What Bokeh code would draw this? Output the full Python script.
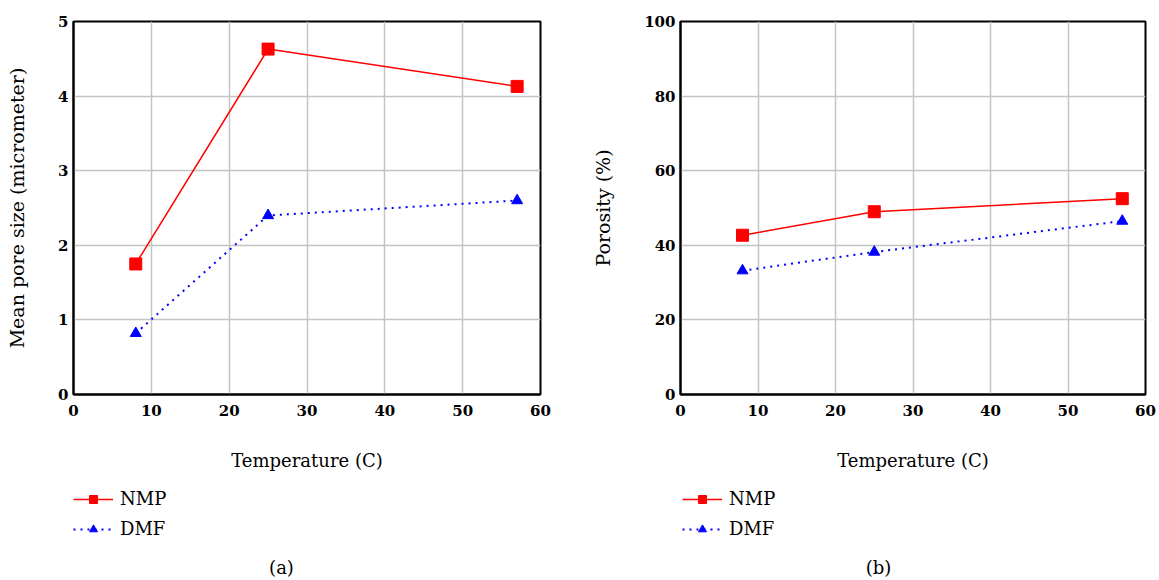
from bokeh.plotting import figure
from bokeh.layouts import row, column
from bokeh.models import Legend, LegendItem, Label, Range1d, FixedTicker
from bokeh.embed import file_html
from bokeh.resources import INLINE

# ---- data ----
temps = [8, 25, 57]
pore_nmp = [1.75, 4.63, 4.13]
pore_dmf = [0.82, 2.40, 2.60]
poro_nmp = [42.7, 49.0, 52.5]
poro_dmf = [33.2, 38.2, 46.5]
x_ticks = [0, 10, 20, 30, 40, 50, 60]
pore_ticks = [0, 1, 2, 3, 4, 5]
poro_ticks = [0, 20, 40, 60, 80, 100]
series_names = ["NMP", "DMF"]
panel_tags = ["(a)", "(b)"]

FONT = "DejaVu Serif"
RED = "#ff0000"
BLUE = "#0000ff"
DMF_DASH = "2 5"


def draw_series(p, nmp, dmf, visible=True):
    l1 = p.line(temps, nmp, line_color=RED, line_width=1.5, visible=visible)
    m1 = p.scatter(temps, nmp, marker="square", size=12,
                   fill_color=RED, line_color=RED, visible=visible)
    l2 = p.line(temps, dmf, line_color=BLUE, line_width=2,
                line_dash=DMF_DASH, visible=visible)
    m2 = p.scatter(temps, dmf, marker="triangle", size=11,
                   fill_color=BLUE, line_color=BLUE, visible=visible)
    return (l1, m1), (l2, m2)


def make_panel(width, border_left, border_right, ymax, yticks, ylabel,
               nmp, dmf, ylabel_standoff, tag, tag_x, legend_x):
    p = figure(width=width, height=480, output_backend="svg",
               toolbar_location=None,
               x_range=Range1d(0, 60), y_range=Range1d(0, ymax),
               min_border_left=border_left, min_border_right=border_right,
               min_border_top=21, min_border_bottom=86)
    p.outline_line_color = "black"
    p.outline_line_width = 2

    p.xaxis.ticker = FixedTicker(ticks=x_ticks)
    p.yaxis.ticker = FixedTicker(ticks=yticks)
    for ax in (p.xaxis[0], p.yaxis[0]):
        ax.axis_line_color = "black"
        ax.axis_line_width = 2
        ax.major_tick_line_color = None
        ax.minor_tick_line_color = None
        ax.major_tick_out = 0
        ax.major_tick_in = 0
        ax.minor_tick_out = 0
        ax.major_label_text_font = FONT
        ax.major_label_text_font_size = "15px"
        ax.major_label_text_font_style = "bold"
        ax.major_label_text_color = "black"
        ax.axis_label_text_font = FONT
        ax.axis_label_text_font_style = "normal"
        ax.axis_label_text_color = "black"
    p.xaxis.axis_label = "Temperature (C)"
    p.xaxis.axis_label_text_font_size = "18px"
    p.xaxis.major_label_standoff = 10
    p.xaxis.axis_label_standoff = 31
    p.yaxis.axis_label = ylabel
    p.yaxis.axis_label_text_font_size = "19px"
    p.yaxis.major_label_standoff = 5
    p.yaxis.axis_label_standoff = ylabel_standoff

    p.xgrid.ticker = FixedTicker(ticks=x_ticks)
    p.ygrid.ticker = FixedTicker(ticks=yticks)
    for g in (p.xgrid[0], p.ygrid[0]):
        g.grid_line_color = "#c4c4c4"
        g.grid_line_width = 1.5

    draw_series(p, nmp, dmf)

    # legend / caption strip below the plot (its frame is aligned with the plot's)
    q = figure(width=width, height=98, output_backend="svg",
               toolbar_location=None, x_axis_type=None, y_axis_type=None,
               x_range=Range1d(0, 60), y_range=Range1d(0, ymax),
               min_border_left=0, min_border_right=0,
               min_border_top=0, min_border_bottom=0)
    q.outline_line_color = None
    q.xgrid.visible = False
    q.ygrid.visible = False
    (a1, b1), (a2, b2) = draw_series(q, nmp, dmf, visible=False)
    legend = Legend(items=[LegendItem(label=series_names[0], renderers=[a1, b1]),
                           LegendItem(label=series_names[1], renderers=[a2, b2])],
                    location=(legend_x, 39),
                    label_text_font=FONT, label_text_font_size="18px",
                    label_text_color="black",
                    glyph_width=40, glyph_height=20, label_height=20,
                    spacing=9, padding=0, margin=0,
                    label_standoff=7,
                    inactive_fill_alpha=0,
                    border_line_color=None, background_fill_alpha=0)
    q.add_layout(legend)
    q.add_layout(Label(x=tag_x, y=11, x_units="screen", y_units="screen",
                       text=tag, text_font=FONT, text_font_size="18px",
                       text_align="center", text_baseline="middle",
                       text_color="black"))
    return column(p, q)


c1 = make_panel(580, 73, 40, 5, pore_ticks, "Mean pore size (micrometer)",
                pore_nmp, pore_dmf, 27, panel_tags[0], 208, 0)
c2 = make_panel(579, 100, 14, 100, poro_ticks, "Porosity (%)",
                poro_nmp, poro_dmf, 27, panel_tags[1], 198, 2)

layout = row(c1, c2)
open("out.html", "w").write(file_html(layout, INLINE))
